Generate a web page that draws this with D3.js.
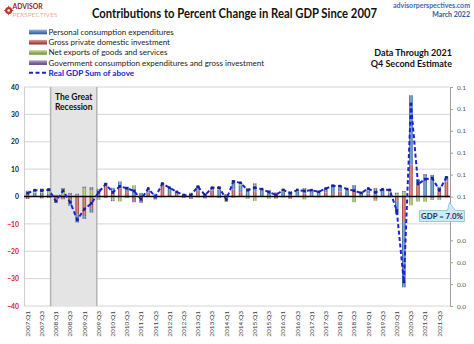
<!DOCTYPE html>
<html>
<head>
<meta charset="utf-8">
<script src="https://cdn.jsdelivr.net/npm/d3@7"></script>
<style>
body { margin: 0; background: #fff; }
text { font-family: Lato, "Open Sans", sans-serif; }
</style>
</head>
<body>
<div id="chart"></div>
<script>
var quarters = [
    "2007:Q1","2007:Q2","2007:Q3","2007:Q4","2008:Q1","2008:Q2","2008:Q3","2008:Q4",
    "2009:Q1","2009:Q2","2009:Q3","2009:Q4","2010:Q1","2010:Q2","2010:Q3","2010:Q4",
    "2011:Q1","2011:Q2","2011:Q3","2011:Q4","2012:Q1","2012:Q2","2012:Q3","2012:Q4",
    "2013:Q1","2013:Q2","2013:Q3","2013:Q4","2014:Q1","2014:Q2","2014:Q3","2014:Q4",
    "2015:Q1","2015:Q2","2015:Q3","2015:Q4","2016:Q1","2016:Q2","2016:Q3","2016:Q4",
    "2017:Q1","2017:Q2","2017:Q3","2017:Q4","2018:Q1","2018:Q2","2018:Q3","2018:Q4",
    "2019:Q1","2019:Q2","2019:Q3","2019:Q4","2020:Q1","2020:Q2","2020:Q3","2020:Q4",
    "2021:Q1","2021:Q2","2021:Q3","2021:Q4"
];

// contributions, percentage points
var pce = [
    1.5, 1.2, 1.3, 1.0,  -0.6, 0.1, -2.2, -3.0,  -1.0, -1.4, 1.6, 0.6,
    1.6, 2.3, 2.0, 2.9,  1.3, 0.8, 1.0, 0.8,  1.9, 0.5, 0.7, 0.9,
    1.7, 0.8, 1.3, 2.5,  0.9, 2.6, 2.5, 3.1,  2.3, 2.2, 1.9, 1.2,
    1.8, 1.9, 1.6, 1.7,  1.3, 1.5, 1.6, 2.9,  1.4, 1.9, 2.0, 0.8,
    1.2, 2.4, 1.9, 1.1,  -4.9, -24.2, 25.4, 2.3,  7.4, 7.9, 1.3, 1.8
];
var gpdi = [
    -0.9, 0.2, -0.7, -0.5,  -1.7, -1.0, -1.2, -6.5,  -7.2, -4.5, 1.0, 4.4,
    1.6, 2.9, 1.6, -1.3,  -0.8, 1.4, -0.3, 4.2,  1.3, 0.9, -0.2, -0.3,
    2.2, 0.4, 2.2, 0.0,  -0.6, 2.5, 1.6, 0.0,  1.7, 0.0, 0.2, -0.7,
    -0.3, -0.8, 0.3, 1.1,  0.6, 0.5, 1.5, 0.9,  1.8, 0.1, 2.1, 0.6,
    1.1, -1.2, 0.1, -0.3,  -1.6, -9.0, 11.6, 4.0,  -0.4, -0.6, 2.2, 5.5
];
var netExports = [
    0.2, 0.3, 1.2, 1.5,  0.3, 2.4, 0.6, 0.4,  3.0, 2.4, -1.3, 0.0,
    -1.3, -1.8, -0.6, 1.2,  -0.3, 0.6, -0.1, -0.1,  0.0, 0.4, 0.3, 0.5,
    0.0, -0.1, 0.0, 1.2,  -1.4, -0.5, 0.4, -0.6,  -1.6, -0.1, -0.8, -0.2,
    0.2, 0.1, 0.4, -1.1,  0.2, 0.0, -0.1, -0.4,  0.2, 0.3, -2.1, -0.3,
    0.4, -0.4, -0.1, 1.2,  0.9, 1.5, -3.1, -1.5,  -1.5, -0.2, -1.3, -0.1
];
var government = [
    0.4, 0.6, 0.4, 0.5,  0.3, 0.6, 0.7, 0.6,  0.6, 1.0, 0.2, -0.5,
    -0.4, 0.3, 0.0, -0.8,  -1.2, 0.1, -0.7, -0.2,  0.0, -0.1, -0.3, -0.6,
    -0.3, -0.6, -0.3, -0.5,  0.0, 0.9, 0.5, -0.2,  0.8, 0.6, 0.3, 0.3,
    0.7, 0.0, 0.1, 0.3,  0.2, -0.3, -0.1, 0.5,  0.4, 0.4, 0.1, 0.2,
    0.2, 0.7, 0.7, 0.4,  0.5, 0.5, -0.1, -0.3,  0.8, -0.4, 0.1, -0.2
];
var gdp = [
    1.2, 2.3, 2.2, 2.5,  -1.7, 2.1, -2.1, -8.5,  -4.6, -2.5, 1.5, 4.5,
    1.5, 3.7, 3.0, 2.0,  -1.0, 2.9, -0.1, 4.7,  3.2, 1.7, 0.5, 0.5,
    3.6, 0.5, 3.2, 3.2,  -1.1, 5.5, 5.0, 2.3,  3.2, 2.7, 1.6, 0.6,
    2.4, 1.2, 2.4, 2.0,  2.3, 1.7, 2.9, 3.9,  3.8, 2.7, 2.1, 1.3,
    2.9, 1.5, 2.6, 2.4,  -5.1, -31.2, 33.8, 4.5,  6.3, 6.7, 2.3, 7.0
];

var seriesNames = [
    "Personal consumption expenditures",
    "Gross private domestic investment",
    "Net exports of goods and services",
    "Government consumption expenditures and gross investment"
];
var lineName = "Real GDP Sum of above";
var leftTicks = [-40, -30, -20, -10, 0, 10, 20, 30, 40];
var rightTicks = [0, 0.01, 0.02, 0.03, 0.04, 0.05, 0.06, 0.07, 0.08, 0.09, 0.1];
var recession = ["2008:Q1", "2009:Q2"];
var lastLabel = "GDP = 7.0%";

function main() {
    var W = 474, H = 344;
    var left = 24, right = 450, top = 87, bottom = 306;

    var svg = d3.select("#chart").append("svg")
        .attr("width", W).attr("height", H);

    var colors = [
        ["#2b5889", "#8db4e2", "#34659e"],
        ["#8a2b28", "#e39a97", "#a33c39"],
        ["#6c8a32", "#c7dc9f", "#7f9f3f"],
        ["#563f77", "#b7a6cc", "#674c8b"]
    ];
    var defs = svg.append("defs");
    colors.forEach(function(c, k) {
        var g = defs.append("linearGradient").attr("id", "bar" + k)
            .attr("x1", 0).attr("x2", 1).attr("y1", 0).attr("y2", 0);
        g.append("stop").attr("offset", "0%").attr("stop-color", c[0]);
        g.append("stop").attr("offset", "45%").attr("stop-color", c[1]);
        g.append("stop").attr("offset", "100%").attr("stop-color", c[2]);
        var g2 = defs.append("linearGradient").attr("id", "sw" + k)
            .attr("x1", 0).attr("x2", 0).attr("y1", 0).attr("y2", 1);
        g2.append("stop").attr("offset", "0%").attr("stop-color", c[1]);
        g2.append("stop").attr("offset", "100%").attr("stop-color", c[0]);
    });

    var x = d3.scaleBand().domain(quarters).range([left, right])
        .paddingInner(0.5).paddingOuter(0.25);
    var y = d3.scaleLinear().domain([-40, 40]).range([bottom, top]);
    var y2 = d3.scaleLinear().domain([0, 0.1]).range([bottom, top]);

    // grid
    svg.append("g").selectAll("line")
        .data(leftTicks)
        .enter().append("line")
        .attr("x1", left).attr("x2", right)
        .attr("y1", function(d) { return y(d); })
        .attr("y2", function(d) { return y(d); })
        .attr("stroke", "#d4d4d4").attr("stroke-width", 1);
    svg.append("line").attr("x1", left + 0.5).attr("x2", left + 0.5)
        .attr("y1", top).attr("y2", bottom).attr("stroke", "#cfcfcf");

    // recession shading
    var rx0 = x(recession[0]) - (x.step() - x.bandwidth());
    var rx1 = x(recession[1]) + x.step();
    svg.append("rect")
        .attr("x", rx0).attr("y", top)
        .attr("width", rx1 - rx0).attr("height", bottom - top)
        .attr("fill", "#e4e4e4");
    [rx0, rx1].forEach(function(v) {
        svg.append("line").attr("x1", v).attr("x2", v)
            .attr("y1", top).attr("y2", bottom)
            .attr("stroke", "#b4b4b4").attr("stroke-width", 1.5);
    });
    svg.append("text").attr("x", (rx0 + rx1) / 2).attr("y", 99.5)
        .attr("text-anchor", "middle").attr("font-size", 8.5).attr("font-weight", "bold")
        .attr("fill", "#111").text("The Great");
    svg.append("text").attr("x", (rx0 + rx1) / 2).attr("y", 110)
        .attr("text-anchor", "middle").attr("font-size", 8.5).attr("font-weight", "bold")
        .attr("fill", "#111").text("Recession");

    // stacked bars
    var rows = quarters.map(function(q, i) {
        return { q: q, s0: pce[i], s1: gpdi[i], s2: netExports[i], s3: government[i] };
    });
    var stack = d3.stack().keys(["s1", "s0", "s2", "s3"])
        .offset(d3.stackOffsetDiverging);
    var layers = stack(rows);
    var fillFor = { s0: "url(#bar0)", s1: "url(#bar1)", s2: "url(#bar2)", s3: "url(#bar3)" };

    svg.append("g").selectAll("g")
        .data(layers)
        .enter().append("g")
        .attr("fill", function(d) { return fillFor[d.key]; })
        .selectAll("rect")
        .data(function(d) { return d; })
        .enter().append("rect")
        .attr("x", function(d) { return x(d.data.q); })
        .attr("width", x.bandwidth())
        .attr("y", function(d) { return y(Math.max(d[0], d[1])); })
        .attr("height", function(d) { return Math.abs(y(d[0]) - y(d[1])); });

    // zero line
    svg.append("line").attr("x1", left).attr("x2", right)
        .attr("y1", y(0)).attr("y2", y(0))
        .attr("stroke", "#000").attr("stroke-width", 1.6);

    // GDP line
    var cx = function(d, i) { return x(quarters[i]) + x.bandwidth() / 2; };
    var line = d3.line().x(cx).y(function(d) { return y(d); });
    svg.append("path").datum(gdp)
        .attr("d", line).attr("fill", "none")
        .attr("stroke", "#1c22d4").attr("stroke-width", 2)
        .attr("stroke-dasharray", "4,2.5");
    svg.append("g").selectAll("rect")
        .data(gdp)
        .enter().append("rect")
        .attr("x", function(d, i) { return cx(d, i) - 1.3; })
        .attr("y", function(d) { return y(d) - 1.3; })
        .attr("width", 2.6).attr("height", 2.6)
        .attr("fill", "#1a237e");

    // left axis
    var ax = svg.append("g").attr("transform", "translate(" + (left - 5) + ",0)")
        .call(d3.axisLeft(y).tickValues(leftTicks).tickSize(0).tickPadding(0));
    ax.select(".domain").remove();
    ax.selectAll("text")
        .attr("font-family", "Lato, sans-serif").attr("font-size", 6.8).attr("font-weight", "bold")
        .attr("fill", function(d) { return d < 0 ? "#e4141b" : "#222"; });

    // right axis (label at 0.04 sits under the callout)
    var fmt = d3.format(".1f");
    var ar = svg.append("g").attr("transform", "translate(" + right + ",0)")
        .call(d3.axisRight(y2).tickValues(rightTicks)
            .tickFormat(function(d) { return d === 0.04 ? "" : fmt(d); })
            .tickSizeInner(3).tickSizeOuter(0).tickPadding(4));
    ar.select(".domain").attr("stroke", "#a0a0a0");
    ar.selectAll("line").attr("stroke", "#a0a0a0");
    ar.selectAll("text")
        .attr("font-family", "Lato, sans-serif").attr("font-size", 6.5)
        .attr("fill", "#595959");

    // x labels
    svg.append("g").selectAll("text")
        .data(quarters.filter(function(d, i) { return i % 2 === 0; }))
        .enter().append("text")
        .attr("transform", function(d) {
            return "translate(" + (x(d) + x.bandwidth() / 2 + 2.2) + "," + (bottom + 5) + ") rotate(-90)";
        })
        .attr("text-anchor", "end")
        .attr("font-size", 6.5).attr("fill", "#404040")
        .text(function(d) { return d; });

    // callout for last quarter
    var lx = x(quarters[quarters.length - 1]) + x.bandwidth() / 2;
    var ly = y(0);
    var bx0 = lx - 27, bx1 = lx + 18, by0 = ly + 14, by1 = ly + 25;
    var p = d3.path();
    p.moveTo(bx0, by0); p.lineTo(lx + 1, by0); p.lineTo(lx + 3, ly + 6);
    p.lineTo(lx + 9, by0); p.lineTo(bx1, by0); p.lineTo(bx1, by1);
    p.lineTo(bx0, by1); p.closePath();
    svg.append("path").attr("d", p.toString())
        .attr("fill", "#cdebf6").attr("stroke", "#86bcd4").attr("stroke-width", 0.8);
    svg.append("text").attr("x", (bx0 + bx1) / 2).attr("y", by1 - 2.8)
        .attr("text-anchor", "middle").attr("font-size", 7.8).attr("font-weight", "bold")
        .attr("fill", "#1f2f55").text(lastLabel);

    // legend
    var lg = svg.append("g");
    seriesNames.forEach(function(name, k) {
        var yy = 32 + k * 10.2;
        lg.append("rect").attr("x", 29).attr("y", yy - 2.3)
            .attr("width", 18).attr("height", 4.6)
            .attr("fill", "url(#sw" + k + ")");
        lg.append("text").attr("x", 48.5).attr("y", yy + 3)
            .attr("font-size", 8).attr("fill", "#222").text(name);
    });
    var ly5 = 32 + 4 * 10.2;
    lg.append("line").attr("x1", 29).attr("x2", 47).attr("y1", ly5).attr("y2", ly5)
        .attr("stroke", "#1c22d4").attr("stroke-width", 2).attr("stroke-dasharray", "4,2.5");
    lg.append("text").attr("x", 48.5).attr("y", ly5 + 3)
        .attr("font-size", 8.2).attr("font-weight", "bold").attr("fill", "#1c22d4").text(lineName);

    // titles
    svg.append("text").attr("x", 234.5).attr("y", 18)
        .attr("text-anchor", "middle").attr("font-size", 12.5).attr("font-weight", "bold")
        .attr("textLength", 285).attr("lengthAdjust", "spacingAndGlyphs")
        .attr("fill", "#111").text("Contributions to Percent Change in Real GDP Since 2007");
    svg.append("text").attr("x", 452).attr("y", 55.5)
        .attr("text-anchor", "end").attr("font-size", 9).attr("font-weight", "bold")
        .attr("fill", "#111").text("Data Through 2021");
    svg.append("text").attr("x", 452).attr("y", 66.5)
        .attr("text-anchor", "end").attr("font-size", 9).attr("font-weight", "bold")
        .attr("fill", "#111").text("Q4 Second Estimate");
    svg.append("text").attr("x", 470).attr("y", 8.3)
        .attr("text-anchor", "end").attr("font-size", 7).attr("font-weight", "bold")
        .attr("fill", "#3a6db5").text("advisorperspectives.com");
    svg.append("text").attr("x", 470).attr("y", 16.6)
        .attr("text-anchor", "end").attr("font-size", 7).attr("font-weight", "bold")
        .attr("fill", "#2d5c9c").text("March 2022");

    // logo
    var logo = svg.append("g");
    logo.append("circle").attr("cx", 8.7).attr("cy", 10.5).attr("r", 3.6)
        .attr("fill", "#c8322b");
    logo.append("path").attr("d", "M8.7,5.8V15.2M4,10.5H13.4")
        .attr("stroke", "#c8322b").attr("stroke-width", 0.9);
    logo.append("circle").attr("cx", 8.7).attr("cy", 10.5).attr("r", 1.3)
        .attr("fill", "#fff");
    logo.append("text").attr("x", 12.5).attr("y", 9.4)
        .attr("font-size", 6.8).attr("font-weight", "bold")
        .attr("fill", "#8f1d1d").text("ADVISOR");
    logo.append("text").attr("x", 12.5).attr("y", 17.4)
        .attr("font-size", 6.2).attr("font-weight", 300).attr("letter-spacing", 0.3)
        .attr("fill", "#d8553c").text("PERSPECTIVES");
}

main();
</script>
</body>
</html>
